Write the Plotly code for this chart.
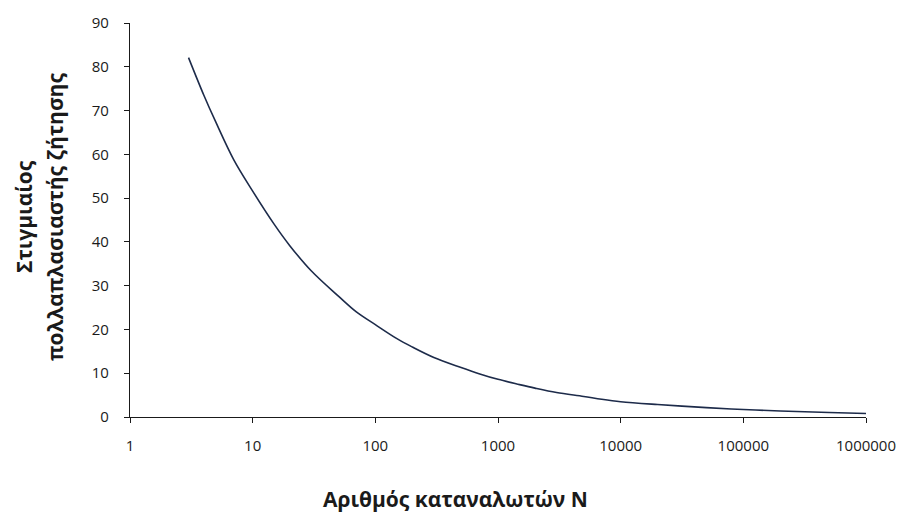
import plotly.graph_objects as go

# Number of consumers N (log axis) and instantaneous demand multiplier
consumers_n = [3, 4, 5, 7, 10, 15, 20, 30, 50, 70, 100, 150, 200, 300, 500, 700,
               1000, 1500, 2000, 3000, 5000, 7000, 10000, 20000, 50000, 100000,
               200000, 500000, 1000000]
multiplier = [82.1, 73.5, 67.4, 58.8, 51.6, 44.0, 39.2, 33.4, 27.6, 24.0, 21.1, 17.9,
              16.0, 13.6, 11.3, 9.9, 8.6, 7.4, 6.6, 5.6, 4.7, 4.05, 3.5, 2.85, 2.15,
              1.7, 1.38, 1.02, 0.8]

x_tick_vals = [1, 10, 100, 1000, 10000, 100000, 1000000]
x_tick_text = ["1", "10", "100", "1000", "10000", "100000", "1000000"]
y_tick_vals = [0, 10, 20, 30, 40, 50, 60, 70, 80, 90]

x_title = "Αριθμός καταναλωτών N"
y_title_line1 = "Στιγμιαίος"
y_title_line2 = "πολλαπλασιαστής ζήτησης"

FONT = "Open Sans"
INK = "#1a1a1a"

fig = go.Figure()
fig.add_trace(go.Scatter(
    x=consumers_n, y=multiplier, mode="lines",
    line=dict(color="#1d2b4a", width=1.6, shape="spline", smoothing=1.0),
    showlegend=False, hoverinfo="x+y",
))

fig.update_layout(
    width=908, height=513,
    margin=dict(l=130, r=42, t=20, b=96),
    paper_bgcolor="white", plot_bgcolor="white",
    font=dict(family=FONT, size=15, color=INK),
    xaxis=dict(
        type="log", range=[0, 6], tickvals=x_tick_vals, ticktext=x_tick_text,
        showgrid=False, zeroline=False, showline=True, linecolor=INK, linewidth=1.3,
        ticks="outside", ticklen=5, tickcolor=INK, tickwidth=1.3,
        ticklabelstandoff=10,
        tickfont=dict(family=FONT, size=15, color=INK),
    ),
    yaxis=dict(
        range=[0, 90], tickvals=y_tick_vals,
        showgrid=False, zeroline=False, showline=True, linecolor=INK, linewidth=1.3,
        ticks="outside", ticklen=5, tickcolor=INK, tickwidth=1.3,
        ticklabelstandoff=12,
        tickfont=dict(family=FONT, size=15, color=INK),
    ),
    annotations=[
        dict(text="<b>" + x_title + "</b>", xref="paper", yref="paper",
             x=0.442, y=0, yshift=-82, xanchor="center", yanchor="middle",
             showarrow=False, font=dict(family=FONT, size=21, color=INK)),
        dict(text="<b>" + y_title_line1 + "</b>", xref="paper", yref="paper",
             x=0, y=0.5, xshift=-106, yshift=3, xanchor="center", yanchor="middle",
             textangle=-90, showarrow=False,
             font=dict(family=FONT, size=21, color=INK)),
        dict(text="<b>" + y_title_line2 + "</b>", xref="paper", yref="paper",
             x=0, y=0.5, xshift=-75, yshift=3, xanchor="center", yanchor="middle",
             textangle=-90, showarrow=False,
             font=dict(family=FONT, size=21, color=INK)),
    ],
)

fig.write_html("out.html", config={"displayModeBar": False},
               post_script="document.body.style.margin='0';")
